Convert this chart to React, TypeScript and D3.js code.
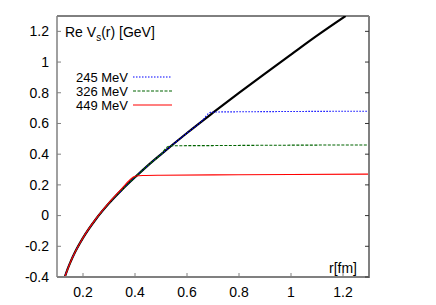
import * as d3 from 'd3';

// r values (fm) and Re V_s(r) (GeV)
const rBlack = [0.13, 0.14, 0.15, 0.17, 0.2, 0.25, 0.3, 0.35, 0.4, 0.45, 0.5, 0.6, 0.7, 0.8, 0.9, 1.0, 1.1, 1.21];
const vBlack = [-0.4, -0.352, -0.31, -0.236, -0.145, -0.022, 0.08, 0.169, 0.25, 0.327, 0.399, 0.538, 0.67, 0.799, 0.925, 1.049, 1.172, 1.3];

const r245 = [0.13, 0.15, 0.2, 0.25, 0.3, 0.35, 0.4, 0.45, 0.5, 0.6, 0.66, 0.69, 0.72, 0.8, 1.0, 1.3];
const v245 = [-0.4, -0.31, -0.145, -0.022, 0.08, 0.169, 0.25, 0.327, 0.399, 0.538, 0.62, 0.672, 0.675, 0.676, 0.678, 0.68];

const r326 = [0.13, 0.15, 0.2, 0.25, 0.3, 0.35, 0.4, 0.45, 0.5, 0.53, 0.56, 0.7, 0.9, 1.3];
const v326 = [-0.4, -0.31, -0.145, -0.022, 0.08, 0.169, 0.25, 0.327, 0.399, 0.452, 0.455, 0.456, 0.458, 0.46];

const r449 = [0.13, 0.15, 0.2, 0.25, 0.3, 0.35, 0.38, 0.4, 0.43, 0.5, 0.7, 1.0, 1.3];
const v449 = [-0.4, -0.31, -0.145, -0.02, 0.085, 0.178, 0.232, 0.256, 0.261, 0.263, 0.265, 0.268, 0.27];

const xTicks = [0.2, 0.4, 0.6, 0.8, 1, 1.2];
const yTicks = [-0.4, -0.2, 0, 0.2, 0.4, 0.6, 0.8, 1, 1.2];
const legendLabels = ['245 MeV', '326 MeV', '449 MeV'];

const W = 436;
const H = 305;
const left = 57;
const right = 369;
const top = 16;
const bottom = 277;

export default function App() {
  const x = d3.scaleLinear().domain([0.1, 1.3]).range([left, right]);
  const y = d3.scaleLinear().domain([-0.4, 1.3]).range([bottom, top]);

  const line = d3
    .line<[number, number]>()
    .x((d) => x(d[0]))
    .y((d) => y(d[1]))
    .curve(d3.curveMonotoneX);

  const zip = (rs: number[], vs: number[]) => rs.map((r, i) => [r, vs[i]] as [number, number]);

  const series = [
    { label: legendLabels[0], pts: zip(r245, v245), color: '#0000ff', dash: '1.5,1.5' },
    { label: legendLabels[1], pts: zip(r326, v326), color: '#006400', dash: '3,1.5' },
    { label: legendLabels[2], pts: zip(r449, v449), color: '#ff0000', dash: undefined },
  ];

  const font = '"Liberation Sans", Arial, sans-serif';
  const grey = '#808080';

  return (
    <svg
      width={W}
      height={H}
      style={{ position: 'absolute', left: 0, top: 0, background: '#fff' }}
      fontFamily={font}
    >
      <defs>
        <clipPath id="plot">
          <rect x={left} y={top} width={right - left} height={bottom - top} />
        </clipPath>
      </defs>

      {/* curves */}
      <g clipPath="url(#plot)">
        <path d={line(zip(rBlack, vBlack)) ?? ''} fill="none" stroke="#000" strokeWidth={2.2} />
        {series.map((s) => (
          <path
            key={s.label}
            d={line(s.pts) ?? ''}
            fill="none"
            stroke={s.color}
            strokeWidth={1.1}
            strokeDasharray={s.dash}
          />
        ))}
      </g>

      {/* frame */}
      <line x1={left} x2={right} y1={top} y2={top} stroke="#000" strokeWidth={1} />
      <line x1={left} x2={left} y1={top} y2={bottom} stroke={grey} strokeWidth={1.5} />
      <line x1={right} x2={right} y1={top} y2={bottom + 1} stroke={grey} strokeWidth={2} />
      <line x1={left} x2={right + 1} y1={bottom} y2={bottom} stroke={grey} strokeWidth={2} />

      {/* y ticks */}
      {yTicks.map((t) => (
        <g key={t}>
          <line x1={left} x2={left + 4} y1={y(t)} y2={y(t)} stroke={grey} />
          <line x1={right - 4} x2={right} y1={y(t)} y2={y(t)} stroke="#333" />
          <text x={49} y={y(t)} dy="0.35em" textAnchor="end" fontSize={14} fill="#000">
            {t}
          </text>
        </g>
      ))}

      {/* x ticks */}
      {xTicks.map((t) => (
        <g key={t}>
          <line x1={x(t)} x2={x(t)} y1={bottom} y2={bottom - 4} stroke={grey} />
          <text x={x(t)} y={292} dy="0.35em" textAnchor="middle" fontSize={14} fill="#000">
            {t}
          </text>
        </g>
      ))}

      {/* axis labels */}
      <text x={65} y={32} dy="0.35em" fontSize={14} fill="#000">
        Re V
        <tspan fontSize={10} dy="4">s</tspan>
        <tspan dy="-4">(r) [GeV]</tspan>
      </text>
      <text x={357} y={268} dy="0.35em" textAnchor="end" fontSize={14} fill="#000">
        r[fm]
      </text>

      {/* legend */}
      {series.map((s, i) => {
        const ly = 77 + i * 14;
        return (
          <g key={s.label}>
            <text x={128} y={ly} dy="0.35em" textAnchor="end" fontSize={13} fill="#000">
              {s.label}
            </text>
            <line
              x1={133}
              x2={172}
              y1={ly}
              y2={ly}
              stroke={s.color}
              strokeWidth={1.1}
              strokeDasharray={s.dash}
            />
          </g>
        );
      })}
    </svg>
  );
}
